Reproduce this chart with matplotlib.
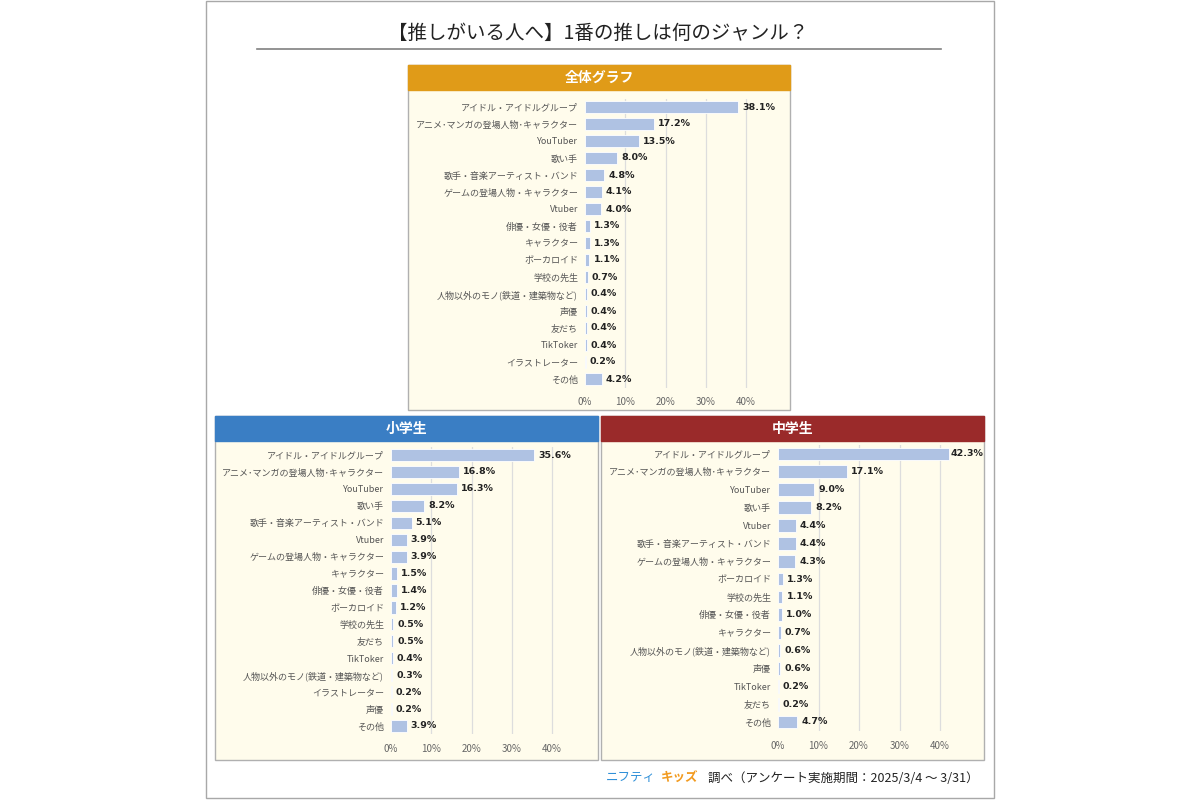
import matplotlib.pyplot as plt
from matplotlib.patches import Rectangle

plt.rcParams['font.family'] = ['Noto Sans CJK JP', 'DejaVu Sans']

title = '【推しがいる人へ】1番の推しは何のジャンル？'

all_labels = ['アイドル・アイドルグループ', 'アニメ･マンガの登場人物･キャラクター', 'YouTuber', '歌い手',
              '歌手・音楽アーティスト・バンド', 'ゲームの登場人物・キャラクター', 'Vtuber', '俳優・女優・役者',
              'キャラクター', 'ボーカロイド', '学校の先生', '人物以外のモノ(鉄道・建築物など)', '声優',
              '友だち', 'TikToker', 'イラストレーター', 'その他']
all_values = [38.1, 17.2, 13.5, 8.0, 4.8, 4.1, 4.0, 1.3, 1.3, 1.1, 0.7, 0.4, 0.4, 0.4, 0.4, 0.2, 4.2]

elem_labels = ['アイドル・アイドルグループ', 'アニメ･マンガの登場人物･キャラクター', 'YouTuber', '歌い手',
               '歌手・音楽アーティスト・バンド', 'Vtuber', 'ゲームの登場人物・キャラクター', 'キャラクター',
               '俳優・女優・役者', 'ボーカロイド', '学校の先生', '友だち', 'TikToker',
               '人物以外のモノ(鉄道・建築物など)', 'イラストレーター', '声優', 'その他']
elem_values = [35.6, 16.8, 16.3, 8.2, 5.1, 3.9, 3.9, 1.5, 1.4, 1.2, 0.5, 0.5, 0.4, 0.3, 0.2, 0.2, 3.9]

jhs_labels = ['アイドル・アイドルグループ', 'アニメ･マンガの登場人物･キャラクター', 'YouTuber', '歌い手',
              'Vtuber', '歌手・音楽アーティスト・バンド', 'ゲームの登場人物・キャラクター', 'ボーカロイド',
              '学校の先生', '俳優・女優・役者', 'キャラクター', '人物以外のモノ(鉄道・建築物など)', '声優',
              'TikToker', '友だち', 'その他']
jhs_values = [42.3, 17.1, 9.0, 8.2, 4.4, 4.4, 4.3, 1.3, 1.1, 1.0, 0.7, 0.6, 0.6, 0.2, 0.2, 4.7]

W, H = 1200, 800
fig = plt.figure(figsize=(12, 8), dpi=100)
fig.patch.set_facecolor('white')
bg = fig.add_axes([0, 0, 1, 1])
bg.set_xlim(0, W)
bg.set_ylim(H, 0)
bg.axis('off')

# outer frame
bg.add_patch(Rectangle((206, 1), 788, 797, fill=False, ec='#A8A8A8', lw=1))
bg.text(598, 33, title, ha='center', va='center', fontsize=14, color='#222222')
bg.plot([257, 941], [49, 49], color='#808080', lw=1.2)

BAR = '#AFC2E3'


def panel(px, py, pw, ph, head, hcol, x0, x40, ytop, ybot, labels, values):
    bg.add_patch(Rectangle((px, py), pw, ph, fc='#FFFCEC', ec='#B0B0B0', lw=1))
    bg.add_patch(Rectangle((px, py), pw, 25, fc=hcol, ec=hcol, lw=1))
    bg.text(px + pw / 2, py + 12.5, head, ha='center', va='center', fontsize=10,
            fontweight='bold', color='white')
    n = len(labels)
    step = (ybot - ytop) / (n - 1)
    unit = (x40 - x0) / 40
    xmax = 50
    ax = fig.add_axes([x0 / W, 1 - (ybot + step / 2) / H, unit * xmax / W, step * n / H])
    ax.patch.set_alpha(0)
    ypos = list(range(n))
    ax.barh(ypos, values, height=0.72, color=BAR, edgecolor='white', lw=0.6, zorder=2)
    ax.set_xlim(0, xmax)
    ax.set_ylim(n - 0.5, -0.5)
    ax.set_yticks(ypos)
    ax.set_yticklabels(labels, fontsize=6.5, color='#555555')
    ax.set_xticks([0, 10, 20, 30, 40])
    ax.set_xticklabels(['0%', '10%', '20%', '30%', '40%'], fontsize=7, color='#666666')
    ax.tick_params(length=0, pad=5)
    ax.tick_params(axis='x', pad=7)
    for s in ax.spines.values():
        s.set_visible(False)
    for g in [10, 20, 30, 40]:
        ax.axvline(g, color='#DDDDDD', lw=0.9, zorder=1)
    for y, v in zip(ypos, values):
        ax.text(v + 1.0 if v < 40 else v + 0.2, y, f'{v:.1f}%', va='center', ha='left',
                fontsize=6.8, fontweight='bold', color='#222222', zorder=3,
                family='DejaVu Sans')


panel(408, 65, 382, 345, '全体グラフ', '#E09B18', 585, 746, 107, 379, all_labels, all_values)
panel(215, 416, 383, 344, '小学生', '#3A7EC4', 391, 552, 455, 726, elem_labels, elem_values)
panel(601, 416, 383, 344, '中学生', '#9A2A2A', 778, 940, 454, 722, jhs_labels, jhs_values)

# footer
bg.text(606, 778, 'ニフティ', ha='left', va='center', fontsize=9, color='#2E8FD8')
bg.text(661, 778, 'キッズ', ha='left', va='center', fontsize=9, fontweight='bold', color='#F29A1E')
bg.text(979, 778, '調べ（アンケート実施期間：2025/3/4 〜 3/31）', ha='right', va='center',
        fontsize=9, color='#222222')

fig.savefig('out.png', dpi=100, facecolor='white')
